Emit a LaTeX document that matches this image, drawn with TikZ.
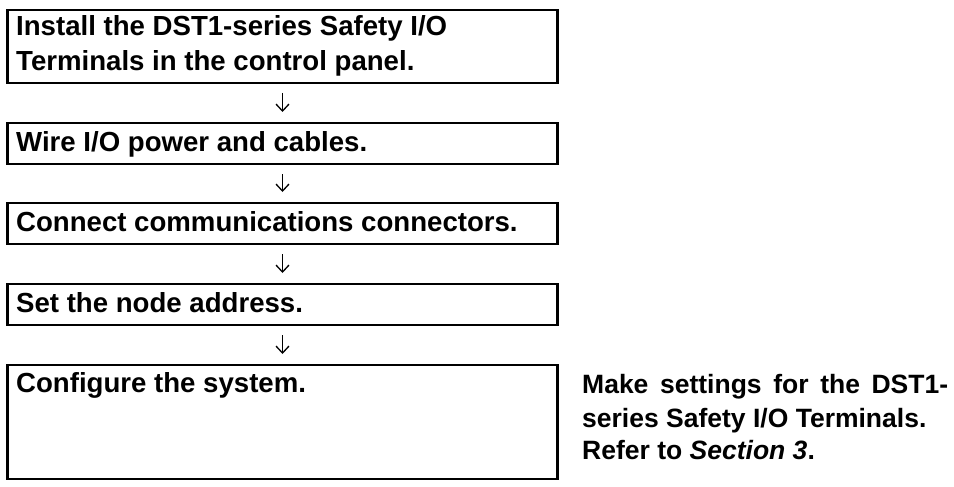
\documentclass[tikz,border=0pt]{standalone}
\usepackage{fontspec}
\setmainfont{Liberation Sans}
\usetikzlibrary{arrows.meta}
\begin{document}
\begin{tikzpicture}[x=1pt,y=-1pt,
  stepbox/.style={draw, line width=2.2pt, outer sep=0pt, inner sep=0pt, minimum width=550pt, anchor=north west},
  steptext/.style={anchor=base west, inner sep=0pt, font=\fontsize{27.6}{35}\selectfont\bfseries},
  notetext/.style={anchor=base west, inner sep=0pt, font=\fontsize{26.5}{34}\selectfont\bfseries},
  flowarrow/.style={line width=1.3pt, -{Straight Barb[length=7pt,width=13pt]}, shorten <=10pt, shorten >=11pt}]
\useasboundingbox[fill=white] (0,0) rectangle (954,487);
\node[stepbox, minimum height=73pt] (b1) at (7.5,10) {};
\node[stepbox, minimum height=41pt] (b2) at (7.5,123) {};
\node[stepbox, minimum height=41pt] (b3) at (7.5,203) {};
\node[stepbox, minimum height=41pt] (b4) at (7.5,284) {};
\node[stepbox, minimum height=114pt] (b5) at (7.5,365) {};
\node[steptext] (t1) at (16,36) {\begin{tabular}[t]{@{}l@{}}Install the DST1-series Safety I/O\\Terminals in the control panel.\end{tabular}};
\node[steptext] (t2) at (16,151.5) {Wire I/O power and cables.};
\node[steptext] (t3) at (16,231.5) {Connect communications connectors.};
\node[steptext] (t4) at (16,312.5) {Set the node address.};
\node[steptext] (t5) at (16,392.5) {Configure the system.};
\node[notetext] (note) at (582,393) {\begin{tabular}[t]{@{}l@{}}\makebox[366pt][s]{Make settings for the DST1-}\\series Safety I/O Terminals.\\[-2pt]Refer to \textit{Section 3}.\end{tabular}};
\draw[flowarrow] (b1.south) -- (b2.north);
\draw[flowarrow] (b2.south) -- (b3.north);
\draw[flowarrow] (b3.south) -- (b4.north);
\draw[flowarrow] (b4.south) -- (b5.north);
\end{tikzpicture}
\end{document}
